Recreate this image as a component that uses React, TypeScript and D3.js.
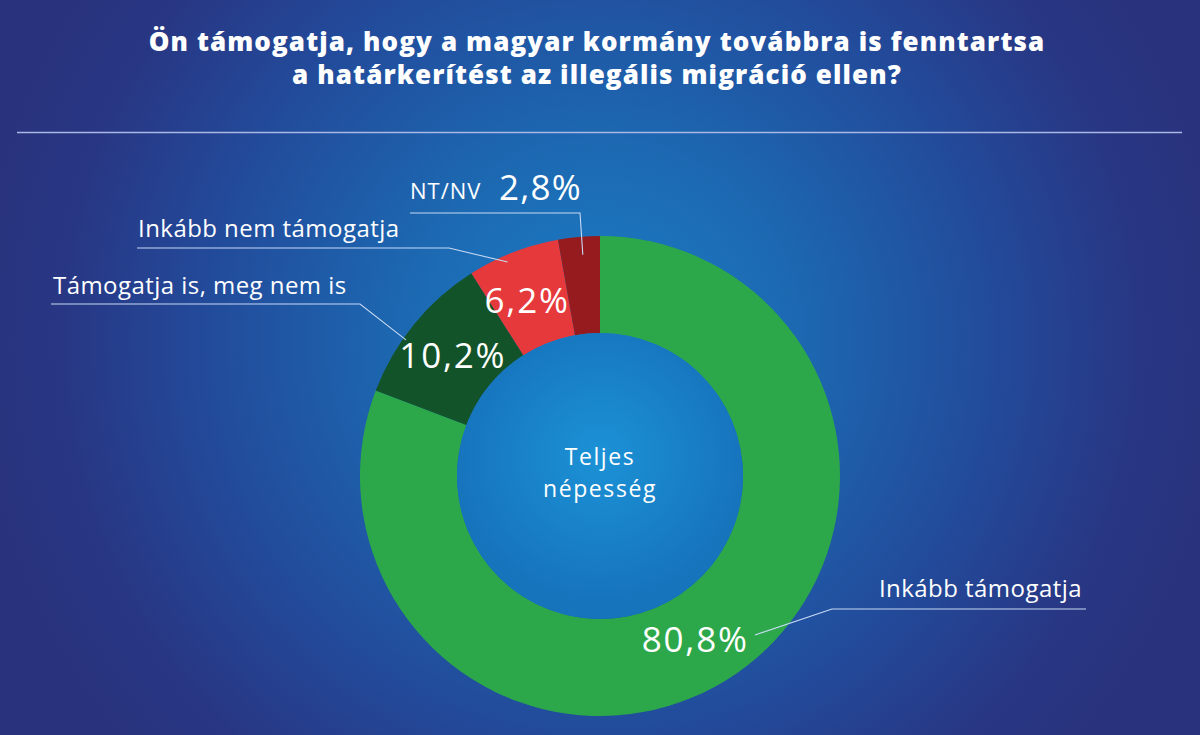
import React from 'react';
import * as d3 from 'd3';

const categories = ['Inkább támogatja', 'Támogatja is, meg nem is', 'Inkább nem támogatja', 'NT/NV'];
const values = [80.8, 10.2, 6.2, 2.8];
const colors = ['#2ca84a', '#13532a', '#e6393b', '#961b1e'];
const titleLines = [
  'Ön támogatja, hogy a magyar kormány továbbra is fenntartsa',
  'a határkerítést az illegális migráció ellen?',
];
const centerLines = ['Teljes', 'népesség'];

const W = 1200;
const H = 735;
const CX = 600;
const CY = 476;
const R_OUT = 240;
const R_IN = 143;
const FONT = "'Open Sans', 'DejaVu Sans', sans-serif";

// label layout per slice (positions of the callouts, not data)
const labelLayout = [
  { pctDA: 4.5, pctR: 190, leadDA: -9.7, leadR: 222, elbow: [832, 609], end: [1086, 609], tx: 1082, ty: 597, anchor: 'end' },
  { pctDA: 0, pctR: 190, leadDA: -4.2, leadR: 237, elbow: [360, 304], end: [51, 304], tx: 53, ty: 294, anchor: 'start' },
  { pctDA: -1.3, pctR: 190, leadDA: -2.1, leadR: 233, elbow: [449, 248], end: [137, 248], tx: 138, ty: 237, anchor: 'start' },
  { pctDA: 0, pctR: 0, leadDA: 0.6, leadR: 222, elbow: [580, 213], end: [410, 213], tx: 410, ty: 199, anchor: 'start' },
];

const fmt = (v: number) => String(v.toFixed(1)).replace('.', ',') + '%';

function polar(angle: number, r: number): [number, number] {
  return [CX + r * Math.sin(angle), CY - r * Math.cos(angle)];
}

export default function App() {
  const pie = d3.pie<number>().sort(null).value((d) => d)(values);
  const arc = d3.arc<d3.PieArcDatum<number>>().innerRadius(R_IN).outerRadius(R_OUT);
  const rad = (deg: number) => (deg * Math.PI) / 180;

  return (
    <svg width={W} height={H} style={{ display: 'block', position: 'absolute', left: 0, top: 0 }}>
      <defs>
        <radialGradient id="bg" gradientUnits="userSpaceOnUse" cx={600} cy={340} r={640}>
          <stop offset="0" stopColor="#1b7fc6" />
          <stop offset="0.3" stopColor="#1c69b2" />
          <stop offset="0.6" stopColor="#224c9c" />
          <stop offset="0.85" stopColor="#283683" />
          <stop offset="1" stopColor="#29327c" />
        </radialGradient>
        <radialGradient id="inner" gradientUnits="userSpaceOnUse" cx={CX} cy={CY - 20} r={R_IN}>
          <stop offset="0" stopColor="#1c92d6" />
          <stop offset="1" stopColor="#1674bd" />
        </radialGradient>
      </defs>
      <rect x={0} y={0} width={W} height={H} fill="url(#bg)" />

      {titleLines.map((t, i) => (
        <text
          key={i}
          x={597}
          y={51 + i * 33}
          textAnchor="middle"
          fill="#ffffff"
          fontFamily={FONT}
          fontWeight={800}
          fontSize={26}
          letterSpacing={1.1}
        >
          {t}
        </text>
      ))}
      <line x1={17} x2={1182} y1={132.5} y2={132.5} stroke="#aab8e6" strokeWidth={1.6} />

      <g>
        {pie.map((p, i) => (
          <path key={i} d={arc(p) || ''} transform={`translate(${CX},${CY})`} fill={colors[i]} />
        ))}
        <circle cx={CX} cy={CY} r={R_IN} fill="url(#inner)" />
      </g>

      {centerLines.map((t, i) => (
        <text key={i} x={CX} y={465 + i * 32} textAnchor="middle" fill="#ffffff" fontFamily={FONT} fontSize={23} letterSpacing={1.6}>
          {t}
        </text>
      ))}

      {pie.map((p, i) => {
        const L = labelLayout[i];
        const mid = (p.startAngle + p.endAngle) / 2;
        const inner = polar(mid + rad(L.leadDA), L.leadR);
        const pts = [inner, L.elbow, L.end] as [number, number][];
        const line = d3.line()(pts) || '';
        const pctPos = polar(mid + rad(L.pctDA), L.pctR);
        return (
          <g key={i}>
            <path d={line} fill="none" stroke="#c8daf4" strokeWidth={1.1} />
            {i < 3 ? (
              <>
                <text x={L.tx} y={L.ty} textAnchor={L.anchor as any} fill="#ffffff" fontFamily={FONT} fontSize={24} letterSpacing={0.45}>
                  {categories[i]}
                </text>
                <text x={pctPos[0]} y={pctPos[1] + 12} textAnchor="middle" fill="#ffffff" fontFamily={FONT} fontSize={35} letterSpacing={1.8}>
                  {fmt(values[i])}
                </text>
              </>
            ) : (
              <>
                <text x={L.tx} y={L.ty} fill="#ffffff" fontFamily={FONT} fontSize={22} letterSpacing={1}>
                  {categories[i]}
                </text>
                <text x={499} y={200} fill="#ffffff" fontFamily={FONT} fontSize={35} letterSpacing={1.2}>
                  {fmt(values[i])}
                </text>
              </>
            )}
          </g>
        );
      })}
    </svg>
  );
}
